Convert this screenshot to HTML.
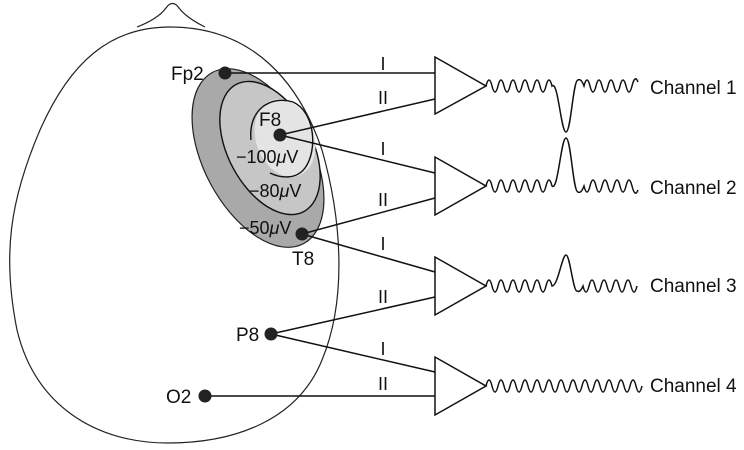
<!DOCTYPE html>
<html><head><meta charset="utf-8"><style>
html,body{margin:0;padding:0;background:#fff;width:744px;height:450px;overflow:hidden}
svg{display:block}
text{font-family:"Liberation Sans",sans-serif;fill:#111}
</style></head><body>
<svg width="744" height="450" viewBox="0 0 744 450" xmlns="http://www.w3.org/2000/svg">
<!-- head -->
<path d="M137,27 C150,22 160,16 166,8 C170,2 175,2 179,8 C185,16 195,22 205,27" fill="none" stroke="#222" stroke-width="1.2"/>
<path d="M170,27 C255,27 300,85 322,150 C342,220 347,300 322,360 C298,420 235,443 168,443 C95,443 35,405 17,330 C2,255 10,200 40,130 C70,62 110,27 170,27 Z" fill="none" stroke="#222" stroke-width="1.2"/>
<!-- potential field -->
<ellipse cx="258" cy="158" rx="97" ry="54" transform="rotate(62 258 158)" fill="#a9a9a9" stroke="#222" stroke-width="1.2"/>
<ellipse cx="270" cy="148" rx="72" ry="42" transform="rotate(62 270 148)" fill="#c6c6c6" stroke="#111" stroke-width="1.4"/>
<ellipse cx="285" cy="138" rx="40" ry="29" transform="rotate(70 285 138)" fill="#e4e4e4" stroke="none"/>
<path d="M251,140 C248,110 270,95 293,102 C315,112 318,150 305,168 C296,180 280,178 270,173" fill="none" stroke="#111" stroke-width="1.4"/>
<!-- wires -->
<g stroke="#111" stroke-width="1.5" fill="none">
<line x1="225" y1="73" x2="435" y2="73"/>
<line x1="280" y1="135" x2="435" y2="99"/>
<line x1="280" y1="135" x2="435" y2="173"/>
<line x1="302" y1="234" x2="435" y2="198"/>
<line x1="302" y1="234" x2="435" y2="272"/>
<line x1="271" y1="334" x2="435" y2="297"/>
<line x1="271" y1="334" x2="435" y2="372"/>
<line x1="205" y1="396" x2="435" y2="396"/>
</g>
<!-- electrodes -->
<g fill="#222">
<circle cx="225" cy="73" r="6.5"/><circle cx="280" cy="135" r="6.5"/><circle cx="302" cy="234" r="6.5"/><circle cx="271" cy="334" r="6.5"/><circle cx="205" cy="396" r="6.5"/>
</g>
<g font-size="19">
<text x="171" y="80">Fp2</text>
<text x="259" y="126">F8</text>
<text x="292" y="265">T8</text>
<text x="236" y="341">P8</text>
<text x="166" y="403">O2</text>
</g>
<g font-size="18">
<text x="236" y="163">−100<tspan font-style="italic">μ</tspan>V</text>
<text x="249" y="197">−80<tspan font-style="italic">μ</tspan>V</text>
<text x="239" y="234">−50<tspan font-style="italic">μ</tspan>V</text>
</g>
<g font-size="18" text-anchor="middle">
<text x="383" y="70">I</text><text x="383" y="104">II</text>
<text x="383" y="155">I</text><text x="383" y="206">II</text>
<text x="383" y="250">I</text><text x="383" y="303">II</text>
<text x="383" y="355">I</text><text x="383" y="390">II</text>
</g>
<!-- amplifiers -->
<g fill="#fff" stroke="#111" stroke-width="1.5">
<path d="M435,57 L435,114 L486,86 Z"/>
<path d="M435,157 L435,215 L486,186 Z"/>
<path d="M435,257 L435,315 L486,286 Z"/>
<path d="M435,357 L435,415 L486,386 Z"/>
</g>
<!-- waves -->
<g fill="none" stroke="#111" stroke-width="1.5">
<path d="M486,86 q3,-12 6,0 t6,0 t6,0 t6,0 t6,0 t6,0 t6,0 t6,0 t6,0 t6,0 t6,0 C558,80 561,132 566,132 C571,132 573,80 578,80 q3,-2 6,6 q3,-12 6,0 t6,0 t6,0 t6,0 t6,0 t6,0 t6,0 t6,0 t6,-4"/>
<path d="M486,186 q3,-12 6,0 t6,0 t6,0 t6,0 t6,0 t6,0 t6,0 t6,0 t6,0 t6,0 t6,0 C558,192 561,138 566,138 C571,138 573,192 578,192 q3,2 6,-6 q3,12 6,0 t6,0 t6,0 t6,0 t6,0 t6,0 t6,0 t6,0 t6,4"/>
<path d="M486,286 q3,-12 6,0 t6,0 t6,0 t6,0 t6,0 t6,0 t6,0 t6,0 t6,0 t6,0 t6,0 C558,286 562,255 566,255 C570,255 573,291 577,291 q3,2 6,-5 q3,12 6,0 t6,0 t6,0 t6,0 t6,0 t6,0 t6,0 t6,0 t6,0"/>
<path d="M486,386 q3,-12 6,0 t6,0 t6,0 t6,0 t6,0 t6,0 t6,0 t6,0 t6,0 t6,0 t6,0 t6,0 t6,0 t6,0 t6,0 t6,0 t6,0 t6,0 t6,0 t6,0 t6,0 t6,0 t6,0 t6,0 t6,0 t6,0"/>
</g>
<g font-size="19">
<text x="650" y="94">Channel 1</text>
<text x="650" y="194">Channel 2</text>
<text x="650" y="292">Channel 3</text>
<text x="650" y="392">Channel 4</text>
</g>
</svg>
</body></html>
